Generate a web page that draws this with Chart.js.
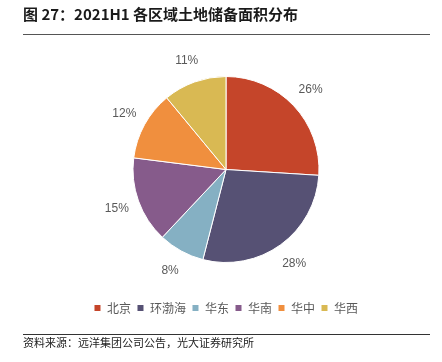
<html>
  <head>
    <meta charset="utf-8" />
    <script src="https://cdn.jsdelivr.net/npm/chart.js"></script>
    <style>
      body { margin: 0; background: #fff; }
      #wrap { position: relative; width: 442px; height: 362px; font-family: "Noto Sans CJK SC", "Noto Sans", sans-serif; }
      #title { position: absolute; left: 23px; top: 3px; font-size: 15px; font-weight: bold; color: #1a1a1a; white-space: nowrap; }
      #line1 { position: absolute; left: 23px; top: 34px; width: 407px; height: 1px; background: #555; }
      #line2 { position: absolute; left: 23px; top: 334px; width: 407px; height: 1px; background: #333; }
      #source { position: absolute; left: 23px; top: 334px; font-size: 11px; color: #222; white-space: nowrap; }
      canvas { position: absolute; left: 0; top: 0; }
    </style>
  </head>
  <body>
    <div id="wrap">
      <canvas id="myChart" width="442" height="362"></canvas>
      <div id="title">图 27：2021H1 各区域土地储备面积分布</div>
      <div id="line1"></div>
      <div id="line2"></div>
      <div id="source">资料来源：远洋集团公司公告，光大证券研究所</div>
    </div>

    <script>
      // 2021H1 land bank share by region (%)
      var regions = ["北京", "环渤海", "华东", "华南", "华中", "华西"];
      var shares = [26, 28, 8, 15, 12, 11];
      var colors = ["#C5452A", "#565174", "#85B0C3", "#865B8B", "#F08F3E", "#D9B953"];

      var pctLabels = {
        id: "pctLabels",
        afterDatasetsDraw(chart) {
          var ctx = chart.ctx;
          var meta = chart.getDatasetMeta(0);
          ctx.save();
          ctx.font = "12px 'Liberation Sans', Arial, sans-serif";
          ctx.fillStyle = "#595959";
          ctx.textAlign = "center";
          ctx.textBaseline = "middle";
          meta.data.forEach(function (arc, i) {
            var mid = (arc.startAngle + arc.endAngle) / 2;
            var r = arc.outerRadius + 23;
            ctx.fillText(shares[i] + "%", arc.x + Math.cos(mid) * r, arc.y + Math.sin(mid) * r);
          });
          ctx.restore();
        },
      };

      var config = {
        type: "pie",
        data: {
          labels: regions,
          datasets: [
            {
              data: shares,
              backgroundColor: colors,
              borderColor: "#ffffff",
              borderWidth: 1,
            },
          ],
        },
        options: {
          responsive: false,
          animation: false,
          radius: 93,
          layout: { padding: { top: 43, left: 10, right: 0, bottom: 38 } },
          plugins: {
            legend: {
              position: "bottom",
              labels: {
                boxWidth: 7,
                boxHeight: 7,
                padding: 6,
                color: "#595959",
                font: { size: 12, family: "'Noto Sans CJK SC', sans-serif" },
              },
            },
            tooltip: { enabled: false },
          },
        },
        plugins: [pctLabels],
      };

      const myChart = new Chart(document.getElementById("myChart"), config);
    </script>
  </body>
</html>
